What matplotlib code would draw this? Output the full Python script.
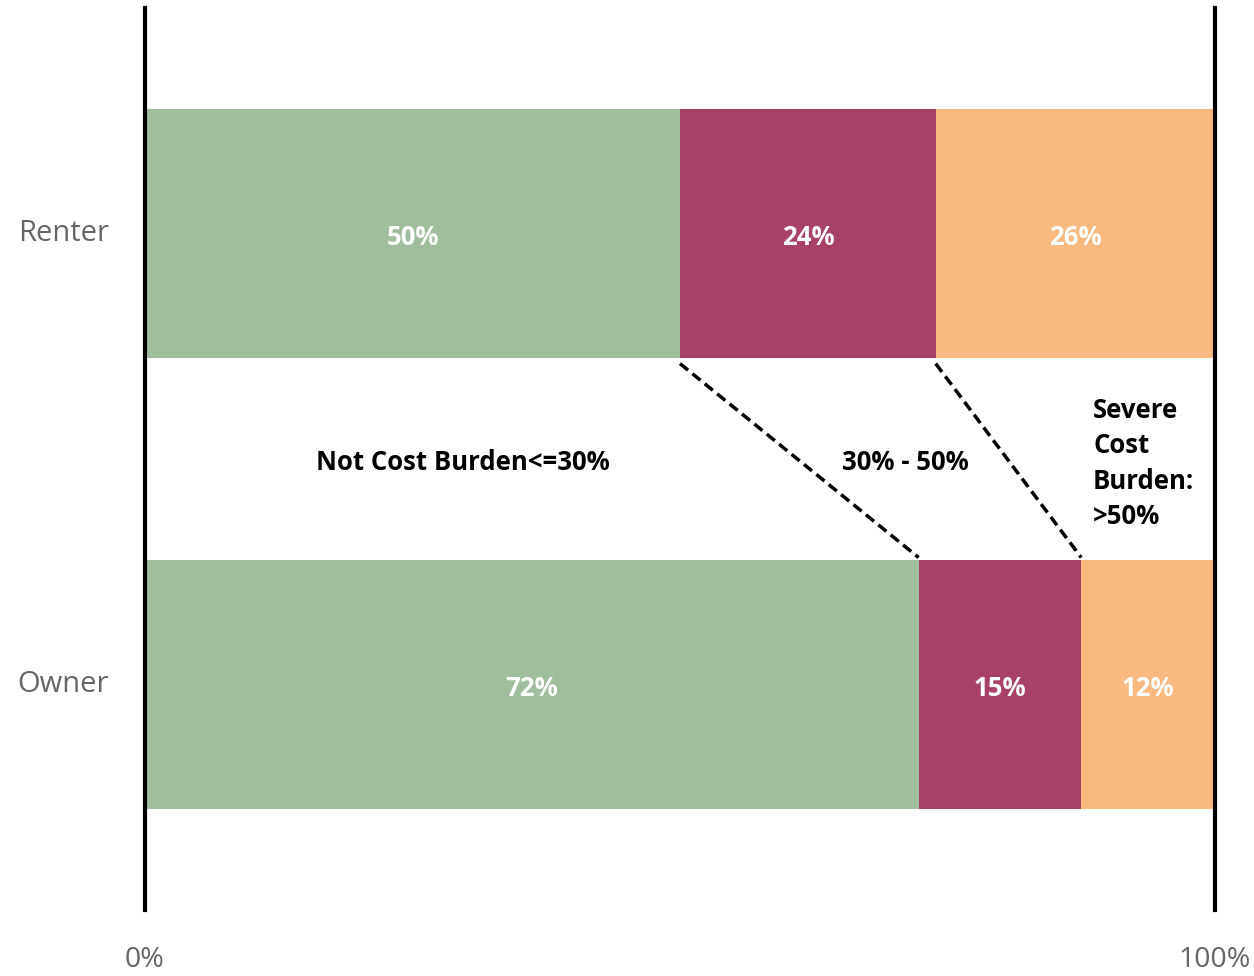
import numpy as np
import matplotlib
matplotlib.use("Agg")
import matplotlib.pyplot as plt

plt.rcParams['font.family'] = ['Open Sans', 'DejaVu Sans']


# ************************************************************
# Data
# ************************************************************

groups = ["Owner", "Renter"]

not_burden = [72.3, 50.0]
burden_30_50 = [15.2, 23.9]
severe = [12.5, 26.1]

not_burden_labels = ["72%", "50%"]
burden_30_50_labels = ["15%", "24%"]
severe_labels = ["12%", "26%"]

colors = ["#a0be9e", "#a74167", "#fab97f"]

x_ticks = [0, 100]
x_tick_labels = ["0%", "100%"]


# ************************************************************
# Figure
# ************************************************************

fig = plt.figure(figsize=(12.54, 9.76), dpi=100)
ax = fig.add_axes([145/1254, 66/976, 1070/1254, 902/976])

y = np.arange(len(groups))
bar_h = 0.553

series = [not_burden, burden_30_50, severe]
series_labels = [not_burden_labels, burden_30_50_labels, severe_labels]

left = np.zeros(len(groups))
for vals, labs, col in zip(series, series_labels, colors):
    bars = ax.barh(y, vals, left=left, height=bar_h, color=col, edgecolor='none')
    for b, lab in zip(bars, labs):
        ax.text(
            b.get_x() + b.get_width()/2,
            b.get_y() + b.get_height()/2 - 0.008,
            lab,
            ha='center', va='center',
            color='white', fontsize=18.5, fontweight='bold'
        )
    left = left + np.array(vals)


# ************************************************************
# Connector lines
# ************************************************************

cum_owner = np.cumsum([not_burden[0], burden_30_50[0]])
cum_renter = np.cumsum([not_burden[1], burden_30_50[1]])

for xr, xo in zip(cum_renter, cum_owner):
    ax.plot(
        [xr, xo],
        [1 - bar_h/2 - 0.012, bar_h/2 + 0.005],
        color='black', lw=2.5, ls=(0, (3, 1.6))
    )


# ************************************************************
# Annotations
# ************************************************************

ax.text(29.7, 0.493, "Not Cost Burden<=30%", ha='center', va='center',
        fontsize=18.5, fontweight='bold', color='black')
ax.text(71.1, 0.493, "30% - 50%", ha='center', va='center',
        fontsize=18.5, fontweight='bold', color='black')
ax.text(88.6, 0.49, "Severe\nCost\nBurden:\n>50%", ha='left', va='center',
        fontsize=18.5, fontweight='bold', color='black', linespacing=1.4)


# ************************************************************
# Axes styling
# ************************************************************

ax.set_xlim(0, 100)
ax.set_ylim(-0.5, 1.5)

ax.set_yticks(y)
ax.set_yticklabels(groups, fontsize=21, color='#666666', va='center')
ax.set_xticks(x_ticks)
ax.set_xticklabels(x_tick_labels, fontsize=20.5, color='#666666')

ax.tick_params(axis='y', length=0, pad=26)
ax.tick_params(axis='x', length=0, pad=26)

for lab in ax.get_yticklabels():
    lab.set_y(lab.get_position()[1])

for side in ['top', 'bottom']:
    ax.spines[side].set_visible(False)
for side in ['left', 'right']:
    ax.spines[side].set_linewidth(3)
    ax.spines[side].set_color('black')

fig.savefig("out.png", dpi=100)
